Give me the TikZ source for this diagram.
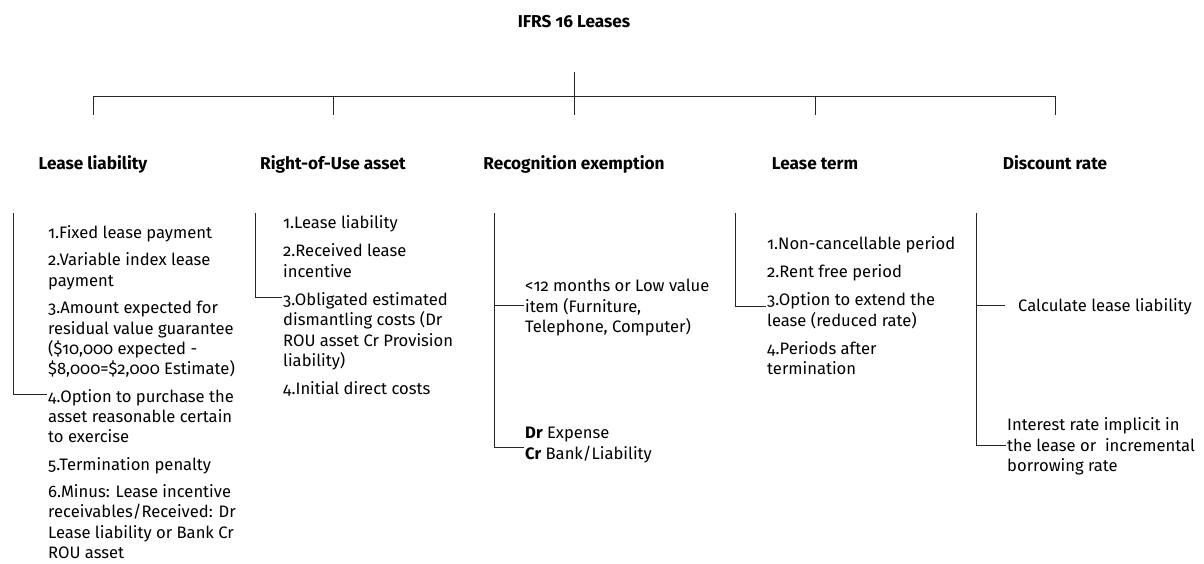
\documentclass[tikz,border=0pt]{standalone}
\usepackage{fontspec}
\setmainfont{Fira Sans}[Numbers=OldStyle]
\begin{document}
\begin{tikzpicture}[x=1pt,y=-1pt,
  line/.style={draw=black!85, line width=0.9pt},
  body/.style={anchor=north west, inner sep=0pt, align=left,
    font=\fontsize{16.6}{20.5}\selectfont},
  head/.style={anchor=base, inner sep=0pt,
    font=\bfseries\fontsize{17.2}{20}\selectfont},
]
\useasboundingbox (0,0) rectangle (1204,563);

% root and branch headings
\node[head] (root) at (574,27) {IFRS 16 Leases};
\node[head] (h1) at (93,169) {Lease liability};
\node[head] (h2) at (333,169) {Right-of-Use asset};
\node[head] (h3) at (574,169) {Recognition exemption};
\node[head] (h4) at (815,169) {Lease term};
\node[head] (h5) at (1055,169) {Discount rate};

% top bracket
\coordinate (hub) at (574,72);
\coordinate (bar) at (574,96);
\coordinate (d1) at (93,115);
\coordinate (d2) at (333,115);
\coordinate (d3) at (574,115);
\coordinate (d4) at (815,115);
\coordinate (d5) at (1055,115);
\draw[line] (hub) -- (bar);
\draw[line] (d1) -- (d1|-bar) -- (d5|-bar) -- (d5);
\draw[line] (d2|-bar) -- (d2);
\draw[line] (d3|-bar) -- (d3);
\draw[line] (d4|-bar) -- (d4);

% Lease liability
\node[body, font=\fontsize{16.6}{20.3}\selectfont] (ll) at (48,224) {\strut 1.Fixed lease payment\\[7.2pt]
2.Variable index lease\\payment\\[7.2pt]
3.Amount expected for\\residual value guarantee\\(\$10,000 expected -\\\$8,000=\$2,000 Estimate)\\[7.2pt]
4.Option to purchase the\\asset reasonable certain\\to exercise\\[7.2pt]
5.Termination penalty\\[7pt]
6.Minus: Lease incentive\\receivables/Received: Dr\\Lease liability or Bank Cr\\ROU asset};
\coordinate (llt) at (13,213);
\coordinate (llb) at (47,394);
\draw[line] (llt) |- (llb);

% Right-of-Use asset
\node[body] (rou) at (283,214) {\strut 1.Lease liability\\[7.5pt]
2.Received lease\\incentive\\[7.5pt]
3.Obligated estimated\\dismantling costs (Dr\\ROU asset Cr Provision\\liability)\\[7.5pt]
4.Initial direct costs};
\coordinate (rout) at (255,213);
\coordinate (roub) at (282,297);
\draw[line] (rout) |- (roub);

% Recognition exemption
\node[body] (re1) at (525,277) {\strut <12 months or Low value\\item (Furniture,\\Telephone, Computer)};
\node[body] (re2) at (525,424) {\strut\textbf{Dr} Expense\\\textbf{Cr} Bank/Liability};
\coordinate (ret) at (494,213);
\coordinate (rem) at (524,305);
\coordinate (reb) at (524,447);
\draw[line] (ret) |- (reb);
\draw[line] (ret|-rem) -- (rem);

% Lease term
\node[body] (lt) at (767,235) {\strut 1.Non-cancellable period\\[7.5pt]
2.Rent free period\\[7.5pt]
3.Option to extend the\\lease (reduced rate)\\[7.5pt]
4.Periods after\\termination};
\coordinate (ltt) at (735,213);
\coordinate (ltb) at (766,306);
\draw[line] (ltt) |- (ltb);

% Discount rate
\node[body] (dr1) at (1018,297) {\strut Calculate lease liability};
\node[body] (dr2) at (1007,416) {\strut Interest rate implicit in\\the lease or\ \ incremental\\borrowing rate};
\coordinate (drt) at (976,213);
\coordinate (drm) at (1005,305);
\coordinate (drb) at (1006,445);
\draw[line] (drt) |- (drb);
\draw[line] (drt|-drm) -- (drm);
\end{tikzpicture}
\end{document}
